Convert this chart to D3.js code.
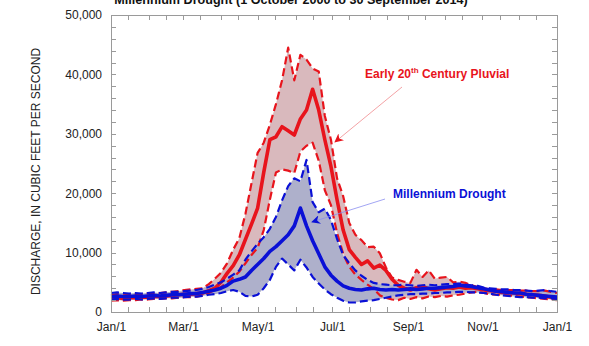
<!DOCTYPE html>
<html>
<head>
<meta charset="utf-8">
<script src="https://cdn.jsdelivr.net/npm/d3@7/dist/d3.min.js"></script>
<style>
  body { margin: 0; background: #fff; }
  svg { display: block; font-family: "Liberation Sans", Arial, sans-serif; }
</style>
</head>
<body>
<div id="chart"></div>
<script>
(function() {
  "use strict";

  // day of year, every 5 days
  var days = d3.range(0, 366, 5);

  // discharge, cubic feet per second
  var pluvialMean = [2300,2400,2300,2400,2400,2500,2500,2600,2600,2700,2800,2900,3000,3000,3100,3200,
    3600,4000,5000,6500,7800,9600,12200,14800,17500,23500,29000,29500,31200,30500,29800,32500,
    34000,37500,34000,29000,24500,18900,13800,10500,9200,8000,8600,7400,7900,7000,5500,4500,
    4000,3700,4100,4300,3900,3700,3900,4100,4000,4200,4000,4100,3900,3700,3600,3500,
    3300,3300,3200,3100,3000,2900,2800,2700,2500,2400];
  var pluvialHigh = [2800,3000,2800,2900,3000,3000,3100,3100,3200,3300,3400,3500,3700,3800,3900,4000,
    4700,5600,6600,8200,10500,12400,16500,21700,26800,28500,31500,35000,39000,44500,39000,43300,
    42500,41000,40500,33000,29000,22500,19500,15000,13000,12100,10900,11000,9900,7500,5800,5400,
    5100,4900,7100,5900,7000,5600,5800,5900,5000,5100,4900,4500,4200,4000,3800,3800,
    3700,3700,3700,3600,3600,3500,3500,3600,3400,3200];
  var pluvialLow = [1900,2000,1900,2000,2000,2100,2100,2200,2200,2300,2300,2400,2500,2500,2600,2800,
    3200,3700,4200,5000,5800,6800,8200,9600,10800,13800,18900,23500,24000,23800,23400,27000,
    28000,28500,25500,20500,18000,13300,9800,7600,6300,5400,4600,3900,2800,2400,2100,2000,
    2400,2200,2500,2300,2600,2500,2700,2600,2800,2900,3100,3300,3400,3200,3000,2900,
    2900,2800,2700,2600,2500,2400,2300,2200,2100,2000];

  var droughtMean = [2600,2700,2600,2600,2700,2600,2700,2800,2700,2800,2900,2900,3000,3100,3100,3300,
    3500,3700,4000,4500,5200,5500,5900,7000,8000,9000,10200,11000,12000,13000,14500,17500,
    14500,12000,9800,7600,6200,5200,4400,4000,3800,3700,3900,4000,3800,3700,3800,3700,
    3800,3900,3800,3900,4000,4000,4100,4200,4300,4500,4400,4300,4100,3900,3700,3500,
    3400,3300,3200,3200,3000,2900,2800,2700,2600,2500];
  var droughtHigh = [3200,3300,3200,3100,3200,3100,3200,3300,3200,3300,3400,3400,3500,3600,3700,3900,
    4200,4600,5000,5600,6300,7000,8800,10200,11500,12600,14000,16000,18800,21200,22500,22000,
    25600,18500,16800,17400,15500,12300,9600,8200,7000,6100,5400,4900,4700,4600,4500,4500,
    4600,4500,4400,4500,4600,4500,4600,4700,4700,4800,4600,4500,4400,4100,4000,3900,
    3800,3800,3700,3700,3600,3500,3600,3700,3500,3400];
  var droughtLow = [2100,2200,2100,2100,2200,2100,2200,2300,2200,2300,2400,2400,2500,2600,2600,2700,
    2900,3000,3200,3500,3700,3400,2700,2600,2900,4000,5400,7600,9000,8000,7000,8800,
    7500,5900,4800,3800,3000,2400,1900,1600,1600,1800,1900,2000,2200,2400,2600,2800,
    2900,3000,3000,3100,3100,3200,3200,3300,3300,3400,3400,3300,3300,3200,3100,2900,
    2800,2700,2600,2500,2500,2400,2400,2300,2300,2200];

  var monthStarts = [0, 31, 59, 90, 120, 151, 181, 212, 243, 273, 304, 334, 365];
  var midMonths = [14, 45, 73, 104, 134, 165, 195, 226, 257, 287, 318, 348];
  var labelDays = [0, 59, 120, 181, 243, 304, 365];
  var labelNames = ["Jan/1", "Mar/1", "May/1", "Jul/1", "Sep/1", "Nov/1", "Jan/1"];
  var yTicks = [0, 10000, 20000, 30000, 40000, 50000];
  var yMinor = d3.range(0, 50001, 2000);

  var width = 589, height = 346;
  var margin = { left: 111, right: 32, top: 15, bottom: 34 };

  var red = "#e8141c", blue = "#0a10d6";

  var svg = d3.select("#chart").append("svg")
    .attr("width", width)
    .attr("height", height);

  var x = d3.scaleLinear().domain([0, 365]).range([margin.left, width - margin.right]);
  var y = d3.scaleLinear().domain([0, 50000]).range([height - margin.bottom, margin.top]);

  function band(hi, lo) {
    return d3.area()
      .x(function (d, i) { return x(days[i]); })
      .y0(function (d, i) { return y(lo[i]); })
      .y1(function (d, i) { return y(hi[i]); })(hi);
  }
  var line = d3.line()
    .x(function (d, i) { return x(days[i]); })
    .y(function (d) { return y(d); });

  var plot = svg.append("g");
  plot.append("path").attr("d", band(pluvialHigh, pluvialLow)).attr("fill", "#d9b9bd");
  plot.append("path").attr("d", band(droughtHigh, droughtLow)).attr("fill", "#aeb0cb");

  function drawSeries(data, color, dashed) {
    plot.append("path")
      .attr("d", line(data))
      .attr("fill", "none")
      .attr("stroke", color)
      .attr("stroke-width", dashed ? 2.2 : 3.6)
      .attr("stroke-linejoin", "round")
      .attr("stroke-dasharray", dashed ? "8,4" : null);
  }
  drawSeries(pluvialHigh, red, true);
  drawSeries(pluvialLow, red, true);
  drawSeries(pluvialMean, red, false);
  drawSeries(droughtHigh, blue, true);
  drawSeries(droughtLow, blue, true);
  drawSeries(droughtMean, blue, false);

  // frame and inward ticks
  var x0 = margin.left, x1 = width - margin.right;
  var y0 = height - margin.bottom, y1 = margin.top;
  var axisColor = "#9a9a9a";

  var gx = svg.append("g").attr("transform", "translate(0," + y0 + ")")
    .call(d3.axisBottom(x).tickValues(labelDays).tickSize(0).tickPadding(10)
      .tickFormat(function (d, i) { return labelNames[i]; }));
  gx.select(".domain").remove();
  gx.selectAll("text").attr("font-size", 12).attr("fill", "#222").attr("font-family", null);

  var gy = svg.append("g").attr("transform", "translate(" + x0 + ",0)")
    .call(d3.axisLeft(y).tickValues(yTicks).tickSize(0).tickPadding(9)
      .tickFormat(d3.format(",")));
  gy.select(".domain").remove();
  gy.selectAll("text").attr("font-size", 12).attr("fill", "#222").attr("font-family", null);

  var xTickDays = monthStarts.concat(midMonths);
  var ticks = svg.append("g").attr("stroke", axisColor).attr("stroke-width", 1);
  xTickDays.forEach(function (d) {
    var px = Math.round(x(d)) + 0.5;
    ticks.append("line").attr("x1", px).attr("x2", px).attr("y1", y0).attr("y2", y0 - 5);
    ticks.append("line").attr("x1", px).attr("x2", px).attr("y1", y1).attr("y2", y1 + 5);
  });
  yMinor.forEach(function (v) {
    var py = Math.round(y(v)) + 0.5;
    ticks.append("line").attr("x1", x0).attr("x2", x0 + 5).attr("y1", py).attr("y2", py);
    ticks.append("line").attr("x1", x1).attr("x2", x1 - 5).attr("y1", py).attr("y2", py);
  });
  svg.append("rect")
    .attr("x", x0 + 0.5).attr("y", y1 + 0.5)
    .attr("width", x1 - x0).attr("height", y0 - y1)
    .attr("fill", "none").attr("stroke", axisColor);

  svg.append("text")
    .attr("transform", "translate(40," + ((y0 + y1) / 2 + 8) + ") rotate(-90)")
    .attr("text-anchor", "middle")
    .attr("font-size", 12)
    .attr("fill", "#222")
    .text("DISCHARGE, IN CUBIC FEET PER SECOND");

  // title, mostly above the top edge as in the original crop
  svg.append("text")
    .attr("x", 291).attr("y", 3.5)
    .attr("text-anchor", "middle")
    .attr("font-size", 12.6)
    .attr("font-weight", "bold")
    .attr("fill", "#111")
    .text("Millennium Drought (1 October 2000 to 30 September 2014)");

  // annotations
  var defs = svg.append("defs");
  function marker(id, color) {
    defs.append("marker")
      .attr("id", id)
      .attr("viewBox", "0 0 10 10")
      .attr("refX", 9).attr("refY", 5)
      .attr("markerWidth", 9).attr("markerHeight", 9)
      .attr("markerUnits", "userSpaceOnUse")
      .attr("orient", "auto")
      .append("path")
      .attr("d", "M0,0 L10,5 L0,10 L3,5 Z")
      .attr("fill", color);
  }
  marker("arrowRed", red);
  marker("arrowBlue", blue);

  svg.append("line")
    .attr("x1", 402).attr("y1", 87).attr("x2", 335).attr("y2", 142)
    .attr("stroke", "#f08a8e").attr("stroke-width", 0.8)
    .attr("marker-end", "url(#arrowRed)");
  svg.append("line")
    .attr("x1", 385).attr("y1", 199).attr("x2", 312).attr("y2", 222)
    .attr("stroke", "#8a8ef0").attr("stroke-width", 0.8)
    .attr("marker-end", "url(#arrowBlue)");

  var t1 = svg.append("text")
    .attr("x", 365).attr("y", 78)
    .attr("font-size", 12).attr("font-weight", "bold").attr("fill", red);
  t1.append("tspan").text("Early 20");
  t1.append("tspan").attr("dy", -5).attr("font-size", 8).text("th");
  t1.append("tspan").attr("dy", 5).text(" Century Pluvial");

  svg.append("text")
    .attr("x", 393).attr("y", 198)
    .attr("font-size", 12).attr("font-weight", "bold").attr("fill", blue)
    .text("Millennium Drought");
})();
</script>
</body>
</html>
